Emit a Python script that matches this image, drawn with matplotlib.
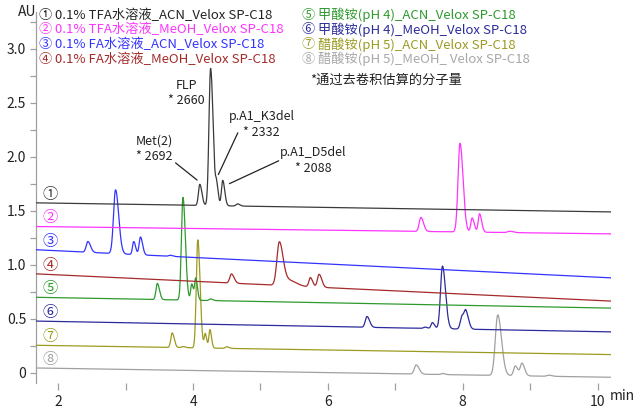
import numpy as np
import matplotlib
matplotlib.use('Agg')
import matplotlib.pyplot as plt

plt.rcParams['font.family'] = ['Noto Sans CJK SC', 'DejaVu Sans']

# ---------------- data ----------------
trace_labels = [
    "0.1% TFA水溶液_ACN_Velox SP-C18",
    "0.1% TFA水溶液_MeOH_Velox SP-C18",
    "0.1% FA水溶液_ACN_Velox SP-C18",
    "0.1% FA水溶液_MeOH_Velox SP-C18",
    "甲酸铵(pH 4)_ACN_Velox SP-C18",
    "甲酸铵(pH 4)_MeOH_Velox SP-C18",
    "醋酸铵(pH 5)_ACN_Velox SP-C18",
    "醋酸铵(pH 5)_MeOH_ Velox SP-C18",
]
circled = ["①", "②", "③", "④", "⑤", "⑥", "⑦", "⑧"]
colors = ["#3a3a3a", "#ff33ff", "#3333ff", "#a52a2a",
          "#2e9a2e", "#2b2b9b", "#9b9b22", "#a0a0a0"]
text_colors = ["#222222", "#ff33ff", "#3333ff", "#a52a2a",
               "#2e9a2e", "#2b2b9b", "#9b9b22", "#a8a8a8"]

# baseline (AU) at start / end of run
base_start = [1.574, 1.355, 1.140, 0.917, 0.700, 0.480, 0.256, 0.046]
base_end = [1.490, 1.287, 0.880, 0.665, 0.600, 0.380, 0.170, -0.040]

# peaks: retention time (min), height above baseline (AU), width (min)
p1_time = [4.10, 4.26, 4.35, 4.44, 4.66]
p1_height = [0.195, 1.27, 0.17, 0.235, 0.02]
p1_width = [0.02, 0.024, 0.016, 0.019, 0.022]

p2_time = [7.38, 7.96, 8.14, 8.25, 8.70]
p2_height = [0.13, 0.82, 0.13, 0.17, 0.012]
p2_width = [0.025, 0.029, 0.02, 0.02, 0.033]

p3_time = [2.44, 2.85, 3.12, 3.22, 3.66]
p3_height = [0.10, 0.59, 0.12, 0.165, 0.01]
p3_width = [0.025, 0.03, 0.018, 0.02, 0.022]

p4_time = [4.57, 5.28, 5.43, 5.74, 5.87]
p4_height = [0.085, 0.40, 0.05, 0.085, 0.12]
p4_width = [0.025, 0.036, 0.065, 0.022, 0.025]

p5_time = [3.47, 3.85, 3.98, 4.04, 4.26]
p5_height = [0.15, 0.95, 0.15, 0.20, 0.015]
p5_width = [0.02, 0.023, 0.016, 0.016, 0.022]

p6_time = [6.58, 7.44, 7.55, 7.70, 7.99, 8.05]
p6_height = [0.10, 0.012, 0.055, 0.58, 0.12, 0.14]
p6_width = [0.025, 0.022, 0.02, 0.029, 0.025, 0.025]

p7_time = [3.69, 3.85, 4.07, 4.18, 4.25, 4.50]
p7_height = [0.135, 0.01, 1.0, 0.13, 0.17, 0.015]
p7_width = [0.02, 0.022, 0.022, 0.015, 0.015, 0.022]

p8_time = [7.31, 7.70, 8.52, 8.78, 8.88, 9.28]
p8_height = [0.085, 0.01, 0.56, 0.09, 0.115, 0.01]
p8_width = [0.028, 0.022, 0.036, 0.025, 0.025, 0.028]

peak_times = [p1_time, p2_time, p3_time, p4_time, p5_time, p6_time, p7_time, p8_time]
peak_heights = [p1_height, p2_height, p3_height, p4_height, p5_height, p6_height, p7_height, p8_height]
peak_widths = [p1_width, p2_width, p3_width, p4_width, p5_width, p6_width, p7_width, p8_width]

# annotations (trace 1)
ann_text = ["Met(2)\n* 2692", "FLP\n* 2660", "p.A1_K3del\n* 2332", "p.A1_D5del\n* 2088"]
ann_peak = [0, 1, 2, 3]

x_ticks = [2, 4, 6, 8, 10]
x_minor = [3, 5, 7, 9]
y_ticks = [0, 0.5, 1.0, 1.5, 2.0, 2.5, 3.0]
y_tick_labels = ["0", "0.5", "1.0", "1.5", "2.0", "2.5", "3.0"]
y_minor = [0.25, 0.75, 1.25, 1.75, 2.25, 2.75, 3.25]

# ---------------- figure ----------------
T0, T1 = 1.67, 10.2
fig = plt.figure(figsize=(6.42, 4.09), dpi=100)
ax = fig.add_axes([36 / 642, 1 - 383 / 409, (611 - 36) / 642, (383 - 12) / 409])
t = np.linspace(T0, T1, 4000)
TAIL = 1.55


def peak(tt, c, h, w):
    s = np.where(tt < c, w, w * TAIL)
    return h * np.exp(-0.5 * ((tt - c) / s) ** 2)


tops = []
for i in range(8):
    base = base_start[i] + (base_end[i] - base_start[i]) * (t - T0) / (T1 - T0)
    y = base.copy()
    for c, h, w in zip(peak_times[i], peak_heights[i], peak_widths[i]):
        y += peak(t, c, h, w)
    ax.plot(t, y, color=colors[i], lw=0.9, zorder=3 + (8 - i) * 0.01)
    tops.append([np.interp(c, t, y) for c in peak_times[i]])
    # circled trace number inside axes
    ax.text(1.875, base_start[i] + 0.08, circled[i], color=colors[i],
            fontsize=11, ha='center', va='center', zorder=5)

# annotations for trace 1
ann_xytext = [(3.42, 2.07), (3.90, 2.59), (5.015, 2.30), (5.785, 1.965)]
line_start = [(3.74, 1.944), None, (4.664, 2.222), (5.27, 1.963)]
line_end_off = [(-0.04, 0.04), None, (0.025, 0.05), (0.10, -0.03)]
for k, txt in enumerate(ann_text):
    ax.text(ann_xytext[k][0], ann_xytext[k][1], txt, ha='center', va='center',
            fontsize=9, color='#222222', linespacing=1.25)
    if line_start[k] is not None:
        pi = ann_peak[k]
        xe = p1_time[pi] + line_end_off[k][0]
        ye = tops[0][pi] + line_end_off[k][1]
        ax.annotate('', xy=(xe, ye), xytext=line_start[k],
                    arrowprops=dict(arrowstyle='-', color='#222222', lw=0.9,
                                    shrinkA=0, shrinkB=0))

ax.set_xlim(T0, T1)
ax.set_ylim(-0.093, 3.34)
for s in ['top', 'right', 'bottom']:
    ax.spines[s].set_visible(False)
ax.spines['left'].set_color('#a0a0a0')
ax.spines['left'].set_linewidth(0.9)
ax.set_xticks(x_ticks)
ax.set_xticks(x_minor, minor=True)
ax.set_yticks(y_ticks)
ax.set_yticklabels(y_tick_labels)
ax.set_yticks(y_minor, minor=True)
ax.tick_params(axis='both', which='both', direction='out', color='#a0a0a0',
               width=0.9, labelsize=10, labelcolor='#222222')
ax.tick_params(axis='x', which='both', length=5, pad=4)
ax.tick_params(axis='y', which='both', length=4, pad=3)

fig.text(18 / 642, 1 - 12 / 409, "AU", fontsize=10, ha='left', va='center', color='#222222')
fig.text(610 / 642, 1 - 396 / 409, "min", fontsize=10, ha='left', va='center', color='#222222')

# legend blocks
for i in range(8):
    col = i // 4
    row = i % 4
    xc = 45 if col == 0 else 308
    yc = 15 + row * 14.7
    fig.text(xc / 642, 1 - yc / 409, circled[i], color=text_colors[i], fontsize=9.5,
             ha='center', va='center')
    fig.text((xc + 10) / 642, 1 - yc / 409, trace_labels[i], color=text_colors[i],
             fontsize=9.5, ha='left', va='center')

fig.text(310 / 642, 1 - 80 / 409, "*通过去卷积估算的分子量", fontsize=9.5,
         ha='left', va='center', color='#222222')

fig.savefig("out.png", dpi=100)
